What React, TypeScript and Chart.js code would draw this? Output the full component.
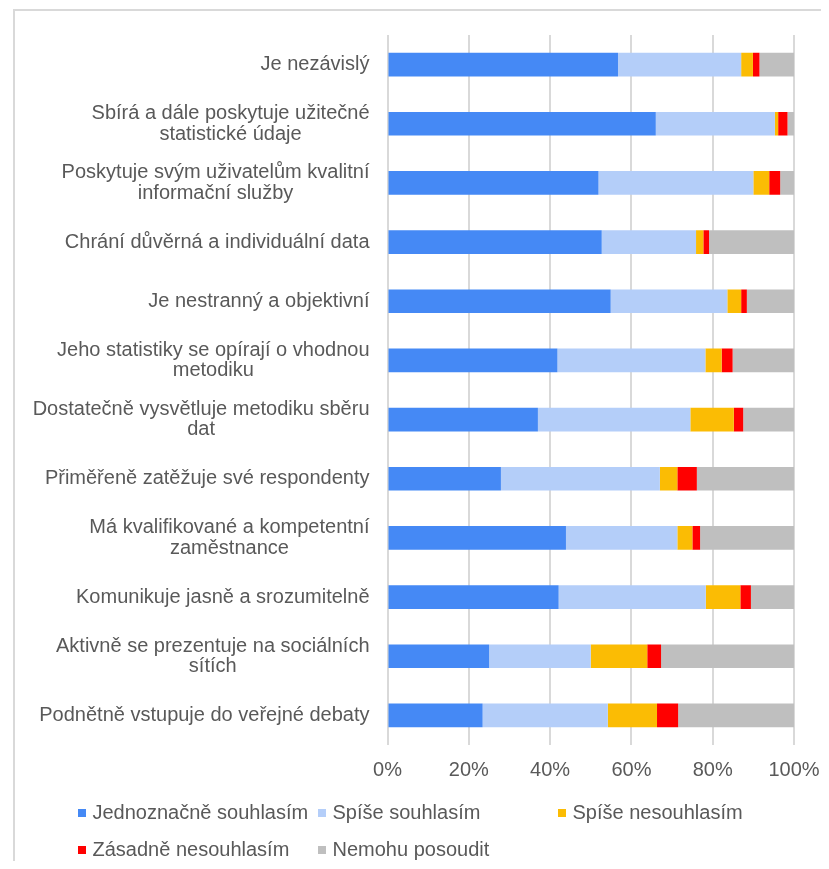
import { useEffect, useRef } from 'react';
import { Chart, registerables } from 'chart.js';

Chart.register(...registerables);

const categories: (string | string[])[] = [
  'Je nezávislý',
  ['Sbírá a dále poskytuje užitečné', 'statistické údaje'],
  ['Poskytuje svým uživatelům kvalitní', 'informační služby'],
  'Chrání důvěrná a individuální data',
  'Je nestranný a objektivní',
  ['Jeho statistiky se opírají o vhodnou', 'metodiku'],
  ['Dostatečně vysvětluje metodiku sběru', 'dat'],
  'Přiměřeně zatěžuje své respondenty',
  ['Má kvalifikované a kompetentní', 'zaměstnance'],
  'Komunikuje jasně a srozumitelně',
  ['Aktivně se prezentuje na sociálních', 'sítích'],
  'Podnětně vstupuje do veřejné debaty',
];

const seriesNames = [
  'Jednoznačně souhlasím',
  'Spíše souhlasím',
  'Spíše nesouhlasím',
  'Zásadně nesouhlasím',
  'Nemohu posoudit',
];

const seriesColors = ['#4589f5', '#b4cef9', '#fbbc04', '#ff0000', '#bfbfbf'];

const jednoznacneSouhlasim = [56.7, 66.0, 51.9, 52.7, 54.9, 41.8, 37.0, 27.9, 43.9, 42.1, 25.0, 23.4];
const spiseSouhlasim = [30.3, 29.3, 38.1, 23.2, 28.7, 36.4, 37.5, 39.1, 27.4, 36.2, 25.0, 30.8];
const spiseNesouhlasim = [2.9, 0.8, 3.9, 1.8, 3.4, 4.0, 10.7, 4.3, 3.7, 8.5, 13.9, 12.1];
const zasadneNesouhlasim = [1.6, 2.3, 2.7, 1.4, 1.4, 2.7, 2.3, 4.8, 1.9, 2.6, 3.4, 5.2];
const nemohuPosoudit = [8.5, 1.6, 3.4, 20.9, 11.6, 15.1, 12.5, 23.9, 23.1, 10.6, 32.7, 28.5];

const xTicks = [0, 20, 40, 60, 80, 100];

const TEXT_COLOR = '#595959';
const FONT_FAMILY = '"Liberation Sans", Arial, sans-serif';

const yLabelPlugin = {
  id: 'yLabels',
  afterDraw(chart: any) {
    const ctx = chart.ctx;
    const yScale = chart.scales.y;
    const area = chart.chartArea;
    const right = area.left - 18;
    const lh = 20.5;
    ctx.save();
    ctx.font = `20px ${FONT_FAMILY}`;
    ctx.fillStyle = TEXT_COLOR;
    ctx.textBaseline = 'middle';
    ctx.textAlign = 'center';
    (chart.data.labels as (string | string[])[]).forEach((lab, i) => {
      const lines = Array.isArray(lab) ? lab : [lab];
      const widest = Math.max(...lines.map((l) => ctx.measureText(l).width));
      const cx = right - widest / 2;
      const cy = yScale.getPixelForTick(i);
      const y0 = cy - ((lines.length - 1) * lh) / 2;
      lines.forEach((l, j) => ctx.fillText(l, cx, y0 + j * lh));
    });
    ctx.restore();
  },
};

const gridLegendPlugin = {
  id: 'gridLegend',
  afterDraw(chart: any) {
    const ctx = chart.ctx;
    const left = 70;
    const colW = 240;
    const rowYs = [805, 842];
    const perRow = 3;
    ctx.save();
    ctx.font = `20px ${FONT_FAMILY}`;
    ctx.textBaseline = 'middle';
    ctx.textAlign = 'left';
    chart.data.datasets.forEach((ds: any, i: number) => {
      const row = Math.floor(i / perRow);
      const col = i % perRow;
      const x = left + col * colW;
      const y = rowYs[row];
      ctx.fillStyle = ds.backgroundColor;
      ctx.fillRect(x, y - 4, 8, 8);
      ctx.fillStyle = TEXT_COLOR;
      ctx.fillText(ds.label, x + 14.5, y);
    });
    ctx.restore();
  },
};

export default function App() {
  const canvasRef = useRef<HTMLCanvasElement | null>(null);

  useEffect(() => {
    if (!canvasRef.current) return;
    const values = [jednoznacneSouhlasim, spiseSouhlasim, spiseNesouhlasim, zasadneNesouhlasim, nemohuPosoudit];
    const chart = new Chart(canvasRef.current, {
      type: 'bar',
      data: {
        labels: categories as any,
        datasets: seriesNames.map((name, i) => ({
          label: name,
          data: values[i],
          backgroundColor: seriesColors[i],
          borderWidth: 0,
          barPercentage: 0.4,
          categoryPercentage: 1,
        })),
      },
      options: {
        indexAxis: 'y',
        responsive: false,
        animation: false,
        devicePixelRatio: 1,
        layout: { padding: { top: 27, right: 27, bottom: 76, left: 0 } },
        plugins: {
          legend: { display: false },
          tooltip: { enabled: false },
          title: { display: false },
        },
        scales: {
          x: {
            stacked: true,
            min: 0,
            max: 100,
            afterBuildTicks: (scale: any) => {
              scale.ticks = xTicks.map((v) => ({ value: v }));
            },
            ticks: {
              padding: 13,
              color: TEXT_COLOR,
              font: { size: 20, family: FONT_FAMILY },
              callback: (v: any) => `${v}%`,
            },
            grid: { color: '#d9d9d9', lineWidth: 2, drawTicks: false },
            border: { display: false },
            afterFit: (scale: any) => {
              scale.height = 40;
              scale.paddingLeft = 0;
              scale.paddingRight = 0;
            },
          },
          y: {
            stacked: true,
            ticks: { display: false },
            grid: { display: false },
            border: { display: false },
            afterFit: (scale: any) => {
              scale.width = 379.5;
            },
          },
        },
      },
      plugins: [yLabelPlugin, gridLegendPlugin],
    });
    return () => chart.destroy();
  }, []);

  return (
    <div style={{ position: 'relative', width: 813, height: 853 }}>
      <div
        style={{
          position: 'absolute',
          left: 5,
          top: 1,
          width: 816,
          height: 860,
          boxSizing: 'border-box',
          borderTop: '2px solid #d9d9d9',
          borderLeft: '2px solid #d9d9d9',
        }}
      />
      <canvas ref={canvasRef} width={813} height={853} style={{ position: 'absolute', left: 0, top: 0 }} />
    </div>
  );
}
